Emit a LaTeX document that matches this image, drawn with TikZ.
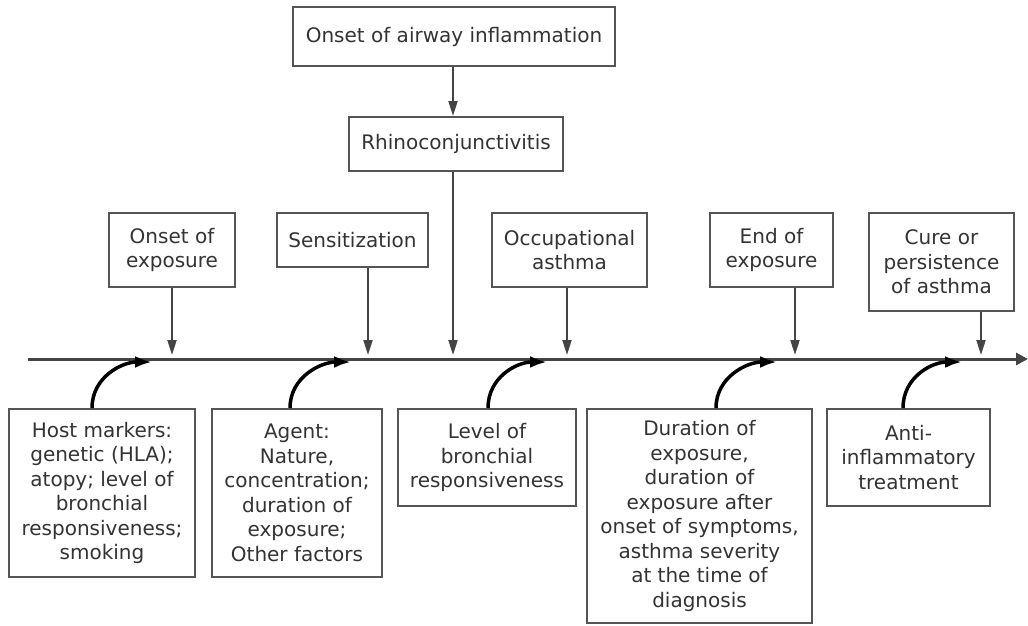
\documentclass[tikz,border=0pt]{standalone}
\usepackage{fontspec}
\setmainfont{DejaVu Sans}
\usepackage{xcolor}
\usepackage{tikz}
\usetikzlibrary{arrows.meta}
\usetikzlibrary{calc}
\definecolor{boxcolor}{HTML}{555555}
\definecolor{textcolor}{HTML}{333333}
\definecolor{axiscolor}{HTML}{444444}

\begin{document}
\begin{tikzpicture}[x=1pt,y=-1pt,
    box/.style={draw=boxcolor,line width=2pt,align=center,inner sep=0pt,text=textcolor,
                font=\fontsize{20}{24.5}\selectfont},
    tick/.style={axiscolor,line width=2pt,-{Triangle[length=15pt,width=9pt]}},
    curvearrow/.style={black,line width=3.5pt,-{Latex[length=17pt,width=12pt]}}]
\useasboundingbox (0,0) rectangle (1028,626);
\node[box,minimum width=322,minimum height=59] (airway) at (454,36.5) {Onset of airway inflammation};
\node[box,minimum width=214,minimum height=54] (rhino) at (456,144) {Rhinoconjunctivitis};
\node[box,minimum width=126,minimum height=74] (onset) at (172,250) {Onset of\\exposure};
\node[box,minimum width=151,minimum height=54] (sens) at (352.5,240) {Sensitization};
\node[box,minimum width=155,minimum height=74] (occ) at (569.5,250) {Occupational\\asthma};
\node[box,minimum width=123,minimum height=74] (endexp) at (771.5,250) {End of\\exposure};
\node[box,minimum width=145,minimum height=98] (cure) at (941.5,262) {Cure or\\persistence\\of asthma};
\node[box,minimum width=186,minimum height=168] (host) at (102,493)
    {Host markers:\\genetic (HLA);\\atopy; level of\\bronchial\\responsiveness;\\smoking};
\node[box,minimum width=170,minimum height=168] (agent) at (297,493)
    {Agent:\\Nature,\\concentration;\\duration of\\exposure;\\Other factors};
\node[box,minimum width=178,minimum height=97] (level) at (487,457.5)
    {Level of\\bronchial\\responsiveness};
\node[box,minimum width=225,minimum height=214] (duration) at (699.5,516)
    {Duration of\\exposure,\\duration of\\exposure after\\onset of symptoms,\\asthma severity\\at the time of\\diagnosis};
\node[box,minimum width=163,minimum height=97] (anti) at (908.5,457.5)
    {Anti-\\inflammatory\\treatment};
% time axis
\coordinate (t0) at (28,359);
\coordinate (t1) at (1028,359);
\draw[axiscolor,line width=3pt,-{Triangle[length=12pt,width=12pt]}] (t0) -- (t1);
\coordinate (a-airway) at (453,0);
\draw[tick] (airway.south -| a-airway) -- (rhino.north -| a-airway);
\foreach \n/\x in {onset/172, sens/368, rhino/453, occ/567, endexp/795, cure/981}
    \coordinate (a-\n) at (\x,355);
\foreach \n in {onset,sens,rhino,occ,endexp,cure}
    \draw[tick] (\n.south -| a-\n) -- (a-\n);
\foreach \n/\f/\t in {host/92/152, agent/290/351, level/488/547, duration/716/777, anti/903/962}
  {\coordinate (f-\n) at (\f,409);
   \coordinate (c-\n) at (\t,362);}
\foreach \n in {host,agent,level,duration,anti}
    \draw[curvearrow] (\n.north -| f-\n) .. controls ($(f-\n)+(0,-32)$) and ($(c-\n)+(-30,0)$) .. (c-\n);
\end{tikzpicture}
\end{document}
